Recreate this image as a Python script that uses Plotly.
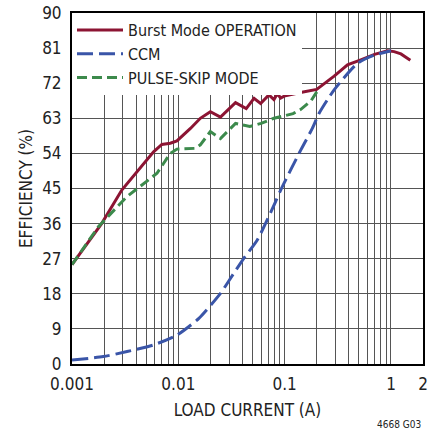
import plotly.graph_objects as go

# efficiency vs load current
burst_x = [0.001, 0.0019, 0.00294, 0.00585, 0.0070, 0.0084, 0.0097, 0.013, 0.0161, 0.02,
           0.0249, 0.0345, 0.0435, 0.0515, 0.0594, 0.0711, 0.0793, 0.0853, 0.0917, 0.099,
           0.141, 0.2, 0.292, 0.39, 0.52, 0.70, 0.93, 1.07, 1.24, 1.52]
burst_y = [25.5, 36.0, 44.6, 54.4, 56.3, 56.6, 57.2, 60.4, 63.0, 64.7,
           63.3, 67.0, 65.5, 68.1, 66.8, 69.0, 67.8, 69.3, 68.2, 68.7,
           69.6, 70.4, 73.8, 76.7, 78.0, 79.4, 80.3, 80.1, 79.5, 77.9]

ccm_x = [0.001, 0.00197, 0.0033, 0.00585, 0.0097, 0.0156, 0.0249, 0.031, 0.0413, 0.0553,
         0.082, 0.0917, 0.142, 0.182, 0.211, 0.292, 0.485, 0.70, 1.0]
ccm_y = [1.0, 1.9, 3.2, 4.9, 7.4, 11.7, 18.1, 22.0, 27.1, 31.8,
         41.6, 44.6, 54.9, 60.4, 64.3, 70.3, 77.1, 79.2, 80.3]

pulse_x = [0.001, 0.00177, 0.00328, 0.0063, 0.0084, 0.0097, 0.0145, 0.0161, 0.02, 0.0249,
           0.0345, 0.047, 0.06, 0.0793, 0.12, 0.142, 0.177, 0.2, 0.21]
pulse_y = [25.5, 35.2, 42.9, 48.9, 54.0, 55.1, 55.3, 56.2, 59.6, 57.8,
           61.7, 60.9, 61.7, 63.0, 64.2, 65.3, 67.5, 69.8, 70.6]

y_ticks = [0, 9, 18, 27, 36, 45, 54, 63, 72, 81, 90]
x_labels = {0.001: "0.001", 0.01: "0.01", 0.1: "0.1", 1: "1", 2: "2"}

RED = "#8C1433"
BLUE = "#3A55A8"
GREEN = "#3C8A4C"
FONT = "DejaVu Sans Condensed, sans-serif"

# grid at every 1..9 step of each decade, only some labelled
x_grid = []
for dec in [0.001, 0.01, 0.1]:
    for m in range(1, 10):
        x_grid.append(round(dec * m, 6))
x_grid += [1, 2]
x_text = [x_labels.get(v, "") for v in x_grid]

fig = go.Figure()
fig.add_trace(go.Scatter(x=burst_x, y=burst_y, mode="lines", name="Burst Mode OPERATION",
                         line=dict(color=RED, width=3)))
fig.add_trace(go.Scatter(x=ccm_x, y=ccm_y, mode="lines", name="CCM",
                         line=dict(color=BLUE, width=3, dash="16px,6px", shape="spline", smoothing=0.6)))
fig.add_trace(go.Scatter(x=pulse_x, y=pulse_y, mode="lines", name="PULSE-SKIP MODE",
                         line=dict(color=GREEN, width=3, dash="10px,5px")))

fig.update_layout(
    width=439, height=435,
    margin=dict(l=72, r=16, t=13, b=71),
    paper_bgcolor="white", plot_bgcolor="white",
    font=dict(family=FONT, size=17, color="#222"),
    showlegend=True,
    legend=dict(x=0, y=1, xanchor="left", yanchor="top", bgcolor="white",
                borderwidth=0, font=dict(size=16), itemwidth=46),
)
fig.update_xaxes(
    type="log", range=[-3, 0.30103], automargin=False,
    tickvals=x_grid, ticktext=x_text, ticks="", ticklabelstandoff=4,
    showgrid=True, gridcolor="#555", gridwidth=1,
    showline=True, linecolor="black", linewidth=2, mirror=True,
    title=dict(text="LOAD CURRENT (A)", font=dict(size=17), standoff=11),
    zeroline=False,
)
fig.update_yaxes(
    range=[0, 90], tickvals=y_ticks, ticks="", automargin=False, ticklabelstandoff=5,
    showgrid=True, gridcolor="#555", gridwidth=1,
    showline=True, linecolor="black", linewidth=2, mirror=True,
    title=dict(text="EFFICIENCY (%)", font=dict(size=17), standoff=5),
    zeroline=False,
)
fig.add_annotation(text="4668 G03", xref="paper", yref="paper", x=1.0, y=-0.171,
                   xanchor="right", yanchor="middle", showarrow=False,
                   font=dict(size=10, color="#222"))

fig.write_html("out.html", config={"displayModeBar": False},
               post_script="document.body.style.margin='0';")
